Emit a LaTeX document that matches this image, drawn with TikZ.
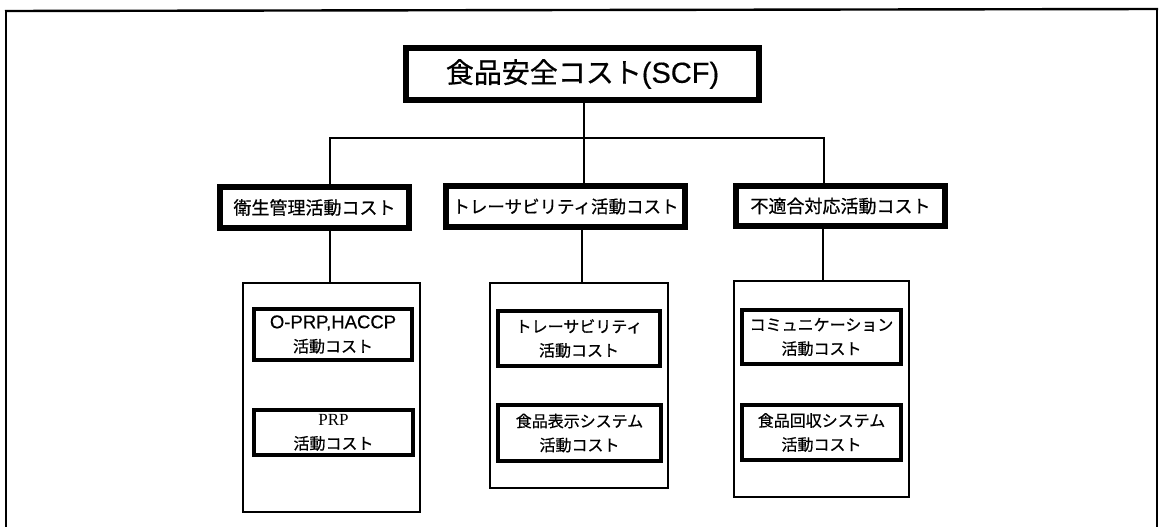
\documentclass[tikz,border=0pt]{standalone}
\usepackage{fontspec}
\newfontfamily\jp[FakeBold=0.6]{Noto Sans CJK JP}
\newfontfamily\lsans[FakeBold=0.4]{Liberation Sans}
\newfontfamily\lserif{Liberation Serif}
\begin{document}
\begin{tikzpicture}[x=1pt,y=-1pt,
  topbox/.style={draw=black,line width=6pt,fill=white,inner sep=0pt,minimum width=353pt,minimum height=52pt,font=\jp\fontsize{28}{30}\selectfont},
  midbox/.style={draw=black,line width=5.5pt,fill=white,inner sep=0pt,minimum height=41pt,font=\jp\fontsize{18}{20}\selectfont},
  groupbox/.style={draw=black,line width=1.2pt,inner sep=0pt},
  itembox/.style={draw=black,line width=4.5pt,fill=white,inner sep=0pt,align=center,font=\jp\fontsize{16}{24}\selectfont},
  conn/.style={draw=black,line width=1.2pt}]
\useasboundingbox (0,0) rectangle (1159,527);
\clip (0,0) rectangle (1159,527);
% outer frame
\draw[line width=1.4pt] (6,540) -- (6,11);
\draw[line width=2.4pt] (5,11) -- (1158,9);
\draw[line width=1.4pt] (1157,9) -- (1157,540);
% top
\node[topbox] (top) at (582.5,74) {食品安全コスト{\lsans\fontsize{29}{30}\selectfont (SCF)}};
% middle
\node[midbox,minimum width=189pt] (m1) at (314.5,207.5) {衛生管理活動コスト};
\node[midbox,minimum width=239pt,font=\jp\fontsize{17.5}{20}\selectfont] (m2) at (565.5,206.5) {トレーサビリティ活動コスト};
\node[midbox,minimum width=209pt,minimum height=40pt] (m3) at (840.5,206) {不適合対応活動コスト};
% groups
\node[groupbox,minimum width=177pt,minimum height=229pt] (g1) at (331.5,397.5) {};
\node[groupbox,minimum width=178pt,minimum height=205pt] (g2) at (579,385.5) {};
\node[groupbox,minimum width=175pt,minimum height=216pt] (g3) at (821.5,389) {};
% items
\node[itembox,minimum width=158pt,minimum height=51pt] (a1) at (333,334.5) {{\lsans\fontsize{18.5}{24}\selectfont O-PRP,HACCP}\\活動コスト};
\node[itembox,minimum width=159pt,minimum height=45pt] (a2) at (333.5,432.5) {{\lserif\fontsize{17}{24}\selectfont PRP}\\活動コスト};
\node[itembox,minimum width=162pt,minimum height=55pt] (b1) at (579,338.5) {トレーサビリティ\\活動コスト};
\node[itembox,minimum width=163pt,minimum height=56pt] (b2) at (579.5,433) {食品表示システム\\活動コスト};
\node[itembox,minimum width=159pt,minimum height=54pt] (c1) at (821.5,337) {コミュニケーション\\活動コスト};
\node[itembox,minimum width=159pt,minimum height=55pt] (c2) at (821.5,432.5) {食品回収システム\\活動コスト};
% connectors
\coordinate (bus) at (584,138);
\coordinate (x1) at (330,0);
\coordinate (x3) at (824,0);
\coordinate (y1) at (330,0);
\coordinate (y2) at (582,0);
\coordinate (y3) at (823,0);
\draw[conn] (top.south -| bus) -- (bus);
\draw[conn] (x1 |- m1.north) -- (x1 |- bus) -- (x3 |- bus) -- (x3 |- m3.north);
\draw[conn] (bus) -- (bus |- m2.north);
\draw[conn] (y1 |- m1.south) -- (y1 |- g1.north);
\draw[conn] (y2 |- m2.south) -- (y2 |- g2.north);
\draw[conn] (y3 |- m3.south) -- (y3 |- g3.north);
\end{tikzpicture}
\end{document}
